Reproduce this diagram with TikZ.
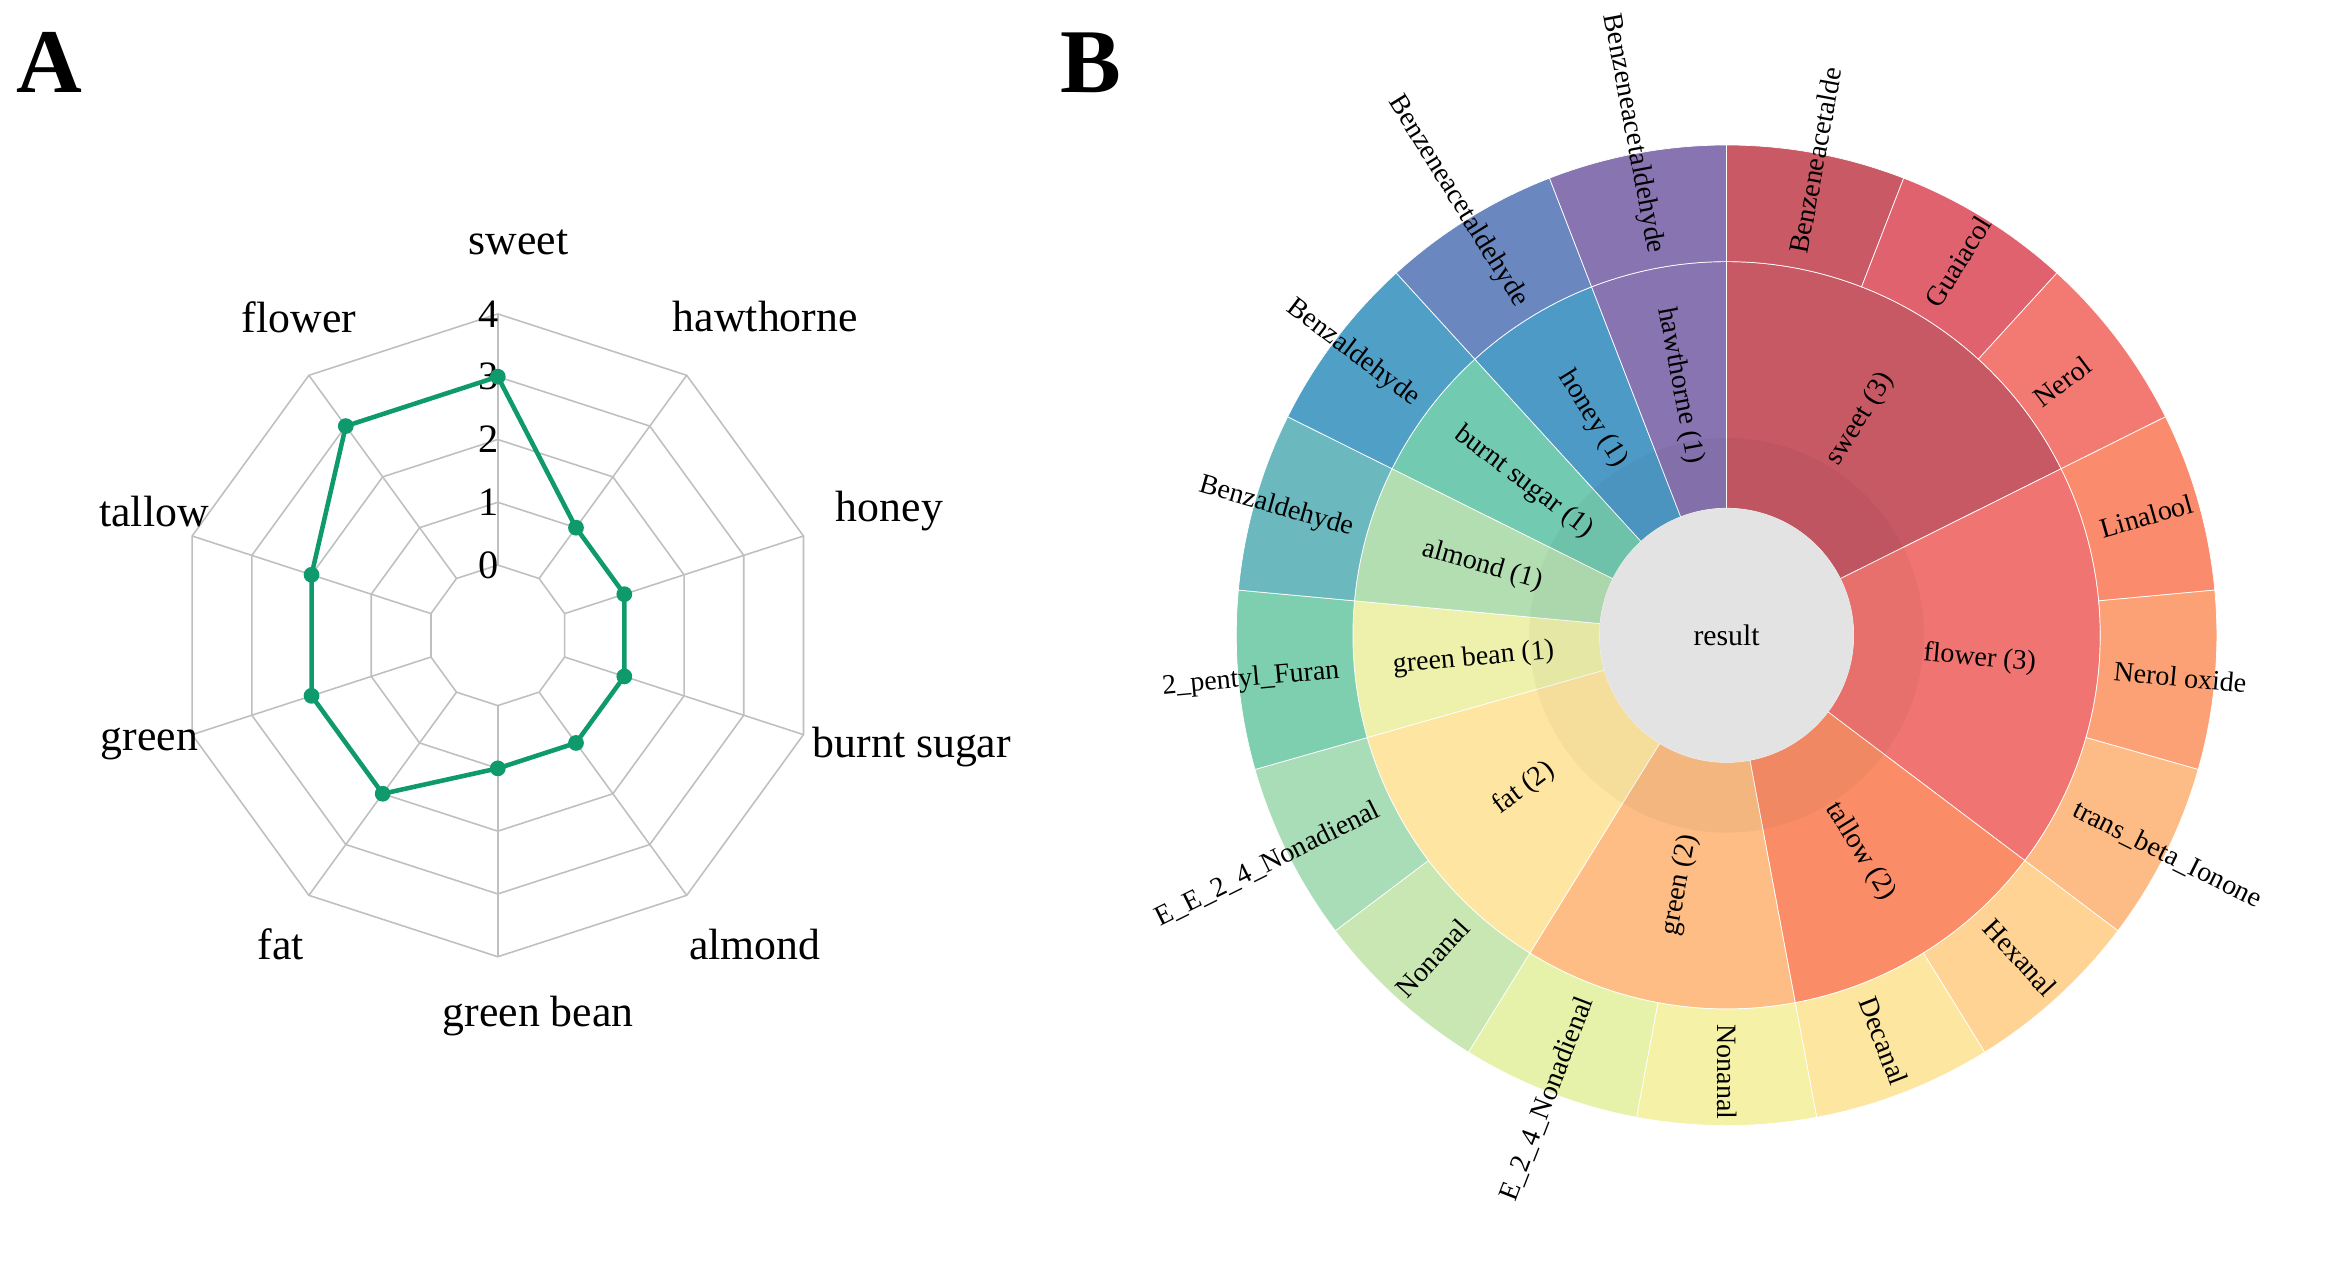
\documentclass[tikz,border=0pt]{standalone}
\usepackage{fontspec}
\setmainfont{Liberation Serif}
\begin{document}
\begin{tikzpicture}[x=0.03cm,y=0.03cm,
  gridl/.style={draw=black!25,line width=0.9pt},
  rlab/.style={font=\fontsize{25}{28}\selectfont},
  nlab/.style={font=\fontsize{23}{26}\selectfont},
  slab/.style={font=\fontsize{16}{18}\selectfont,inner sep=0pt},
  dat/.style={draw=rgreen,line width=2.6pt,line join=round},
  dot/.style={circle,fill=rgreen,inner sep=0pt,minimum size=9pt}]
\definecolor{rgreen}{HTML}{0E9A6C}
\useasboundingbox (0,0) rectangle (1560,-848);
\node[font=\fontsize{52}{56}\selectfont\bfseries] (A) at (33,-42) {A};
\node[font=\fontsize{52}{56}\selectfont\bfseries] (B) at (730,-42) {B};
% ---------------- radar
\begin{scope}[shift={(333,-425)}]
\foreach \r in {47,89,131,173,215}
  \draw[gridl] (90:\r) \foreach \a in {54,18,-18,-54,-90,-126,-162,162,126} {-- (\a:\r)} -- cycle;
\foreach \a in {90,54,18,-18,-54,-90,-126,-162,162,126}
  \draw[gridl] (\a:47) -- (\a:215);
\foreach \v/\r in {0/47,1/89,2/131,3/173,4/215}
  \node[nlab] (n\v) at (-6,\r) {\v};
\draw[dat] (90:173) -- (54:89) -- (18:89) -- (-18:89) -- (-54:89) -- (-90:89) -- (-126:131) -- (-162:131) -- (162:131) -- (126:173) -- cycle;
\foreach \a/\r [count=\i] in {90/173,54/89,18/89,-18/89,-54/89,-90/89,-126/131,-162/131,162/131,126/173}
  \node[dot] (p\i) at (\a:\r) {};
\end{scope}
\node[rlab] (l1) at (347,-162) {sweet};
\node[rlab] (l2) at (512,-212) {hawthorne};
\node[rlab] (l3) at (595,-342) {honey};
\node[rlab] (l4) at (610,-500) {burnt sugar};
\node[rlab] (l5) at (505,-632) {almond};
\node[rlab] (l6) at (360,-680) {green bean};
\node[rlab] (l7) at (188,-632) {fat};
\node[rlab] (l8) at (100,-498) {green};
\node[rlab] (l9) at (103,-342) {tallow};
\node[rlab] (l10) at (200,-212) {flower};
% ---------------- sunburst
\newcommand\sbw[5]{%
  \definecolor{wc}{HTML}{#5}%
  \pgfmathsetmacro\aA{90-#3*360/17}\pgfmathsetmacro\aB{90-#4*360/17}%
  \filldraw[white,line width=0.4pt,fill=wc] (\aA:#1) -- (\aA:#2) arc[start angle=\aA,end angle=\aB,radius=#2] -- (\aB:#1) arc[start angle=\aB,end angle=\aA,radius=#1] -- cycle;}
\newcommand\olab[2]{%
  \pgfmathsetmacro\mA{90-(#1+0.5)*360/17}%
  \pgfmathparse{\mA<-90?1:0}%
  \ifnum\pgfmathresult=1
    \pgfmathsetmacro\rA{\mA+180}\node[slab,rotate=\rA,anchor=east] (o#1) at (\mA:260) {#2};
  \else
    \node[slab,rotate=\mA,anchor=west] (o#1) at (\mA:260) {#2};
  \fi}
\newcommand\ilab[3]{%
  \pgfmathsetmacro\mA{90-(#1+#2)/2*360/17}%
  \pgfmathparse{\mA<-90?1:0}%
  \ifnum\pgfmathresult=1
    \pgfmathsetmacro\rA{\mA+180}\node[slab,rotate=\rA] (i#1) at (\mA:170) {#3};
  \else
    \node[slab,rotate=\mA] (i#1) at (\mA:170) {#3};
  \fi}
\begin{scope}[shift={(1155,-425)}]
\sbw{85}{250}{0}{3}{C75965}
\sbw{85}{250}{3}{6}{F07572}
\sbw{85}{250}{6}{8}{FA8D68}
\sbw{85}{250}{8}{10}{FDBD84}
\sbw{85}{250}{10}{12}{FEE6A2}
\sbw{85}{250}{12}{13}{EDF1AB}
\sbw{85}{250}{13}{14}{B3DEB2}
\sbw{85}{250}{14}{15}{72CAB0}
\sbw{85}{250}{15}{16}{4E9AC6}
\sbw{85}{250}{16}{17}{8874B1}
\sbw{250}{328}{0}{1}{C95A65}
\sbw{250}{328}{1}{2}{E0626F}
\sbw{250}{328}{2}{3}{F27A72}
\sbw{250}{328}{3}{4}{FB8B6D}
\sbw{250}{328}{4}{5}{FCA175}
\sbw{250}{328}{5}{6}{FDBB86}
\sbw{250}{328}{6}{7}{FED393}
\sbw{250}{328}{7}{8}{FDE6A0}
\sbw{250}{328}{8}{9}{F5F1A7}
\sbw{250}{328}{9}{10}{E6F2AA}
\sbw{250}{328}{10}{11}{C9E7B3}
\sbw{250}{328}{11}{12}{A9DDB7}
\sbw{250}{328}{12}{13}{7ECEB0}
\sbw{250}{328}{13}{14}{6BB9BE}
\sbw{250}{328}{14}{15}{4F9FC6}
\sbw{250}{328}{15}{16}{6A88BF}
\sbw{250}{328}{16}{17}{8874B1}
\fill[black,opacity=0.035] (0,0) circle (132);
\node[circle,fill=black!11,minimum size=170*0.03cm,inner sep=0pt,font=\fontsize{17}{20}\selectfont] (res) at (0,0) {result};
\olab{0}{Benzeneacetalde}
\olab{1}{Guaiacol}
\olab{2}{Nerol}
\olab{3}{Linalool}
\olab{4}{Nerol oxide}
\olab{5}{trans\_beta\_Ionone}
\olab{6}{Hexanal}
\olab{7}{Decanal}
\olab{8}{Nonanal}
\olab{9}{E\_2\_4\_Nonadienal}
\olab{10}{Nonanal}
\olab{11}{E\_E\_2\_4\_Nonadienal}
\olab{12}{2\_pentyl\_Furan}
\olab{13}{Benzaldehyde}
\olab{14}{Benzaldehyde}
\olab{15}{Benzeneacetaldehyde}
\olab{16}{Benzeneacetaldehyde}
\ilab{0}{3}{sweet (3)}
\ilab{3}{6}{flower (3)}
\ilab{6}{8}{tallow (2)}
\ilab{8}{10}{green (2)}
\ilab{10}{12}{fat (2)}
\ilab{12}{13}{green bean (1)}
\ilab{13}{14}{almond (1)}
\ilab{14}{15}{burnt sugar (1)}
\ilab{15}{16}{honey (1)}
\ilab{16}{17}{hawthorne (1)}
\end{scope}
\end{tikzpicture}
\end{document}
